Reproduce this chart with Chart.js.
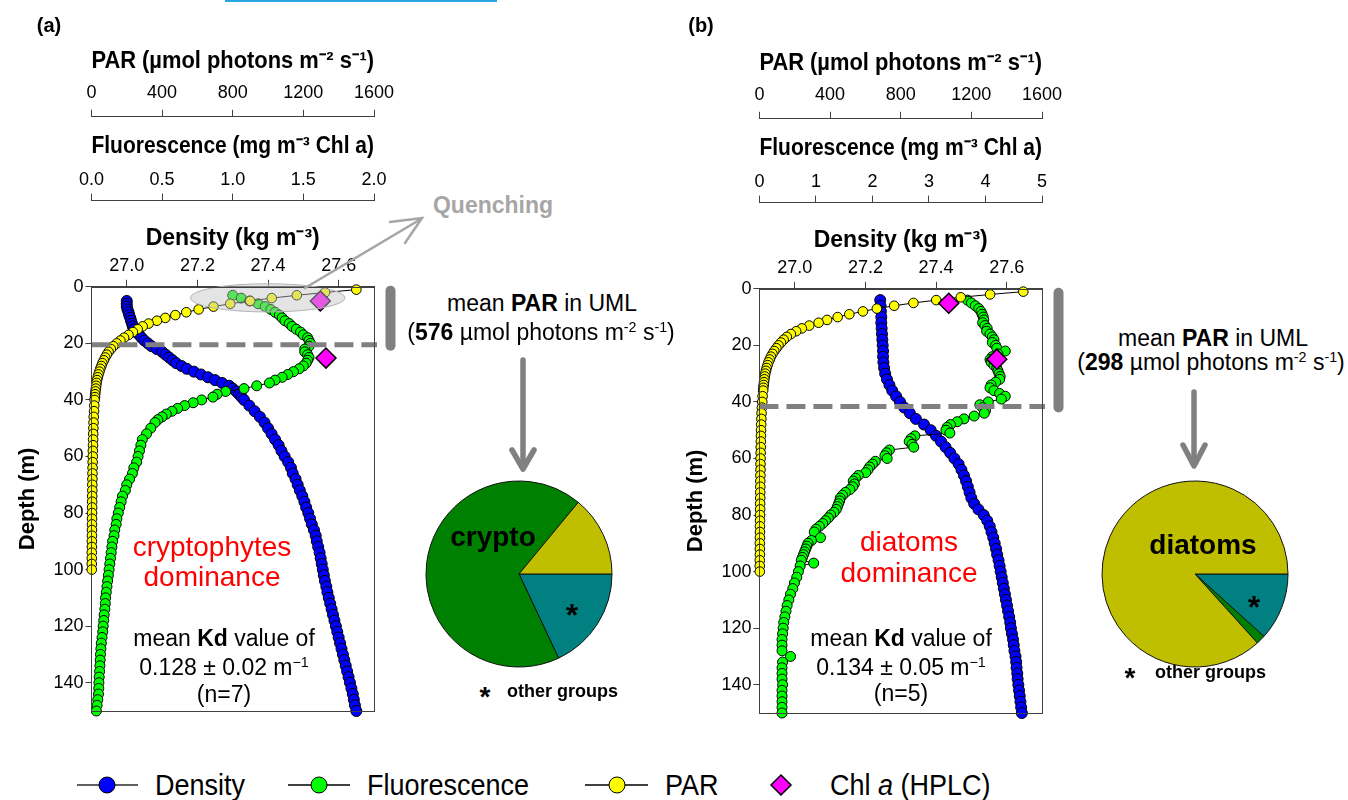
<!DOCTYPE html>
<html>
<head>
<meta charset="utf-8">
<script src="https://cdn.jsdelivr.net/npm/chart.js@4.4.1/dist/chart.umd.min.js"></script>
<style>
  body { margin: 0; width: 1348px; height: 800px; position: relative; background: #fff; overflow: hidden;
         font-family: "Liberation Sans", Arial, sans-serif; color: #000; }
  canvas, svg { position: absolute; }
  .t { position: absolute; white-space: nowrap; line-height: 1; transform: translate(-50%, -50%); }
  .l { position: absolute; white-space: nowrap; line-height: 1; transform: translateY(-50%); }
  .note { font-size: 23px; }
  .red { color: #ff0000; font-size: 28px; }
  .lg { font-size: 30px; transform-origin: left center; transform: translateY(-50%) scaleX(0.9); }
  sup { font-size: 62%; vertical-align: 0.55em; line-height: 0; }
</style>
</head>
<body>
<div style="position:absolute;left:225px;top:0;width:272px;height:2px;background:#2aa7e2"></div>

<canvas id="chartA" width="400" height="724" style="left:0;top:0"></canvas>
<canvas id="chartB" width="400" height="724" style="left:668px;top:2px"></canvas>
<canvas id="pieA" width="200" height="200" style="left:419px;top:474px"></canvas>
<canvas id="pieB" width="200" height="200" style="left:1095px;top:474px"></canvas>

<div class="t" style="left:49px;top:25px;font-size:20px;font-weight:bold">(a)</div>
<div class="t" style="left:701px;top:25px;font-size:20px;font-weight:bold">(b)</div>

<div class="t" style="left:493px;top:205px;font-size:23px;font-weight:bold;color:#a6a6a6">Quenching</div>

<div class="t note" style="left:542px;top:303px">mean <b>PAR</b> in UML</div>
<div class="t note" style="left:541px;top:332px">(<b>576</b> µmol photons m<sup>-2</sup> s<sup>-1</sup>)</div>
<div class="t note" style="left:1213px;top:338px">mean <b>PAR</b> in UML</div>
<div class="t note" style="left:1211px;top:362px">(<b>298</b> µmol photons m<sup>-2</sup> s<sup>-1</sup>)</div>

<div class="t red" style="left:212px;top:547px">cryptophytes</div>
<div class="t red" style="left:212px;top:577px">dominance</div>
<div class="t red" style="left:909px;top:542px">diatoms</div>
<div class="t red" style="left:909px;top:573px">dominance</div>

<div class="t note" style="left:224px;top:638px">mean <b>Kd</b> value of</div>
<div class="t note" style="left:224px;top:667px">0.128 ± 0.02 m<sup>−1</sup></div>
<div class="t note" style="left:224px;top:694px">(n=7)</div>
<div class="t note" style="left:901px;top:638px">mean <b>Kd</b> value of</div>
<div class="t note" style="left:901px;top:667px">0.134 ± 0.05 m<sup>−1</sup></div>
<div class="t note" style="left:901px;top:693px">(n=5)</div>

<div class="t" style="left:493px;top:537px;font-size:28px;font-weight:bold">crypto</div>
<div class="t" style="left:572px;top:615px;font-size:32px;font-weight:bold">*</div>
<div class="t" style="left:485px;top:697px;font-size:28px;font-weight:bold">*</div>
<div class="l" style="left:507px;top:691px;font-size:18px;font-weight:bold">other groups</div>
<div class="t" style="left:1203px;top:545px;font-size:28px;font-weight:bold">diatoms</div>
<div class="t" style="left:1254px;top:607px;font-size:32px;font-weight:bold">*</div>
<div class="t" style="left:1130px;top:678px;font-size:28px;font-weight:bold">*</div>
<div class="l" style="left:1155px;top:672px;font-size:18px;font-weight:bold">other groups</div>

<div class="l lg" style="left:155px;top:785px">Density</div>
<div class="l lg" style="left:367px;top:785px">Fluorescence</div>
<div class="l lg" style="left:665px;top:785px">PAR</div>
<div class="l lg" style="left:830px;top:785px">Chl <i>a</i> (HPLC)</div>

<svg width="1348" height="800" style="left:0;top:0">
  <g stroke="#a6a6a6" stroke-width="2.5" fill="none" stroke-linecap="round">
    <line x1="305" y1="288" x2="421" y2="219"/>
    <polyline points="390,222 422,218 405,243"/>
  </g>
  <g stroke="#808080" stroke-width="5.5" fill="none" stroke-linecap="round" stroke-linejoin="round">
    <line x1="523" y1="360" x2="523" y2="467"/>
    <polyline points="512,450 523,469 534,450"/>
    <line x1="1194" y1="392" x2="1194" y2="464"/>
    <polyline points="1183,445 1194,466 1205,445"/>
  </g>
  <line x1="77" y1="785" x2="138" y2="785" stroke="#606060" stroke-width="2"/>
  <circle cx="107" cy="785" r="8" fill="#0000ff" stroke="#000" stroke-width="1"/>
  <line x1="288" y1="785" x2="350" y2="785" stroke="#000" stroke-width="1.5"/>
  <circle cx="319" cy="785" r="8" fill="#00ff00" stroke="#000" stroke-width="1"/>
  <line x1="585" y1="785" x2="648" y2="785" stroke="#000" stroke-width="1.5"/>
  <circle cx="617" cy="785" r="8" fill="#ffff00" stroke="#000" stroke-width="1"/>
  <polygon points="781,775 791,785 781,795 771,785" fill="#ff00ff" stroke="#000" stroke-width="1.5"/>
</svg>

<script>
// ---- ticks
const depthTicks = [0, 20, 40, 60, 80, 100, 120, 140]
const densityTicks = [27.0, 27.2, 27.4, 27.6]
const parTicks = [0, 400, 800, 1200, 1600]
const flTicksA = [0.0, 0.5, 1.0, 1.5, 2.0]
const flTicksB = [0, 1, 2, 3, 4, 5]

// ---- mixed layer depth (m) for (a) and (b)
const umlDepth = [20.5, 41.6]

// ---- pies (% of Chl a)
const pieGroups = ["other groups", "crypto", "diatoms"]
const pieA = [18, 68, 14]
const pieB = [11.7, 1.6, 86.7]

// ---- (a) density
const depthDenA = [
  5, 6, 7, 8, 9, 10, 11, 12, 13, 14,
  15, 16, 17, 18, 19, 20, 21, 22, 23, 24,
  25, 26, 27, 28, 29, 30, 31, 32, 33, 34,
  35, 36, 37, 38, 39, 40, 42, 44, 46, 48,
  50, 52, 54, 56, 58, 60, 62, 64, 66, 68,
  70, 72, 74, 76, 78, 80, 82, 84, 86, 88,
  90, 92, 94, 96, 98, 100, 102, 104, 106, 108,
  110, 112, 114, 116, 118, 120, 122, 124, 126, 128,
  130, 132, 134, 136, 138, 140, 142, 144, 146, 148,
  150]
const denA = [
  27.000, 27.000, 27.000, 27.002, 27.005, 27.007, 27.010, 27.012, 27.015, 27.017,
  27.020, 27.027, 27.035, 27.042, 27.050, 27.060, 27.070, 27.085, 27.100, 27.110,
  27.120, 27.130, 27.140, 27.155, 27.170, 27.190, 27.210, 27.230, 27.250, 27.270,
  27.290, 27.300, 27.310, 27.318, 27.325, 27.332, 27.347, 27.362, 27.377, 27.390,
  27.400, 27.410, 27.420, 27.430, 27.438, 27.447, 27.457, 27.465, 27.470, 27.478,
  27.484, 27.490, 27.497, 27.503, 27.508, 27.514, 27.519, 27.524, 27.530, 27.535,
  27.538, 27.542, 27.546, 27.549, 27.552, 27.555, 27.558, 27.561, 27.565, 27.568,
  27.572, 27.576, 27.580, 27.584, 27.588, 27.592, 27.596, 27.600, 27.604, 27.608,
  27.612, 27.616, 27.620, 27.624, 27.628, 27.632, 27.636, 27.640, 27.643, 27.646,
  27.650]

// ---- (a) fluorescence
const depthFlA = [
  3, 4, 5, 6, 7, 8, 9, 10, 11, 12,
  13, 14, 15, 16, 17, 18, 19, 20, 21, 22,
  23, 24, 25, 26, 27, 28, 29, 30, 31, 32,
  33, 34, 35, 36, 37, 38, 39, 40, 41, 42,
  43, 44, 45, 46, 47, 48, 50, 52, 54, 56,
  58, 60, 62, 64, 66, 68, 70, 72, 74, 76,
  78, 80, 82, 84, 86, 88, 90, 92, 94, 96,
  98, 100, 102, 104, 106, 108, 110, 112, 114, 116,
  118, 120, 122, 124, 126, 128, 130, 132, 134, 136,
  138, 140, 142, 144, 146, 148, 150]
const flA = [
  1.00, 1.06, 1.12, 1.18, 1.23, 1.27, 1.30, 1.33, 1.35, 1.37,
  1.40, 1.42, 1.45, 1.48, 1.50, 1.53, 1.54, 1.55, 1.54, 1.51,
  1.51, 1.53, 1.54, 1.53, 1.52, 1.50, 1.47, 1.43, 1.39, 1.35,
  1.30, 1.26, 1.17, 1.08, 0.95, 0.89, 0.86, 0.78, 0.72, 0.66,
  0.61, 0.57, 0.53, 0.50, 0.47, 0.45, 0.42, 0.39, 0.36, 0.35,
  0.34, 0.33, 0.32, 0.30, 0.29, 0.27, 0.25, 0.24, 0.22, 0.21,
  0.20, 0.19, 0.18, 0.175, 0.165, 0.16, 0.15, 0.145, 0.14, 0.135,
  0.13, 0.125, 0.12, 0.115, 0.11, 0.105, 0.10, 0.098, 0.095, 0.09,
  0.087, 0.083, 0.08, 0.075, 0.07, 0.067, 0.064, 0.062, 0.06, 0.058,
  0.055, 0.053, 0.052, 0.05, 0.045, 0.04, 0.035]

// ---- (a) PAR
const depthParA = [
  1, 2, 3, 4, 5, 6, 7, 8, 9, 10,
  11, 12, 13, 14, 15, 16, 17, 18, 19, 20,
  21, 22, 23, 24, 25, 26, 27, 28, 29, 30,
  31, 32, 33, 34, 35, 36, 37, 38, 39, 40,
  42, 44, 46, 48, 50, 52, 54, 56, 58, 60,
  62, 64, 66, 68, 70, 72, 74, 76, 78, 80,
  82, 84, 86, 88, 90, 92, 94, 96, 98, 100]
const parA = [
  1500, 1323, 1163, 1021, 899, 786, 691, 607, 537, 475,
  418, 371, 324, 290, 262, 235, 210, 185, 164, 143,
  124, 110, 97, 87, 78, 70, 62, 56, 50, 45,
  40, 36, 32, 29, 27, 25, 23, 21, 20, 18,
  16, 15, 13, 12, 11, 10, 9.5, 9, 8, 7.5,
  7, 6.5, 6, 5.5, 5, 5, 4.5, 4, 4, 3.5,
  3.5, 3, 3, 3, 2.5, 2.5, 2, 2, 2, 2]

// ---- (a) Chl a HPLC
const depthChlA = [5, 25.2]
const chlA = [1.62, 1.66]

// ---- (b) density
const depthDenB = [
  4, 6, 8, 10, 12, 14, 16, 18, 20, 22,
  24, 26, 28, 30, 32, 34, 36, 38, 40, 42,
  44, 46, 48, 50, 52, 54, 56, 58, 60, 62,
  64, 66, 68, 70, 72, 74, 76, 78, 80, 82,
  84, 86, 88, 90, 92, 94, 96, 98, 100, 102,
  104, 106, 108, 110, 112, 114, 116, 118, 120, 122,
  124, 126, 128, 130, 132, 134, 136, 138, 140, 142,
  144, 146, 148, 150]
const denB = [
  27.242, 27.243, 27.244, 27.245, 27.245, 27.246, 27.247, 27.248, 27.249, 27.250,
  27.250, 27.251, 27.253, 27.256, 27.261, 27.268, 27.276, 27.287, 27.298, 27.310,
  27.326, 27.343, 27.366, 27.385, 27.400, 27.414, 27.427, 27.440, 27.452, 27.464,
  27.472, 27.479, 27.485, 27.490, 27.495, 27.500, 27.508, 27.520, 27.535, 27.545,
  27.552, 27.557, 27.562, 27.566, 27.570, 27.573, 27.577, 27.580, 27.583, 27.586,
  27.589, 27.592, 27.595, 27.598, 27.601, 27.604, 27.607, 27.610, 27.612, 27.615,
  27.618, 27.620, 27.622, 27.625, 27.627, 27.628, 27.630, 27.631, 27.633, 27.635,
  27.637, 27.639, 27.641, 27.643]

// ---- (b) fluorescence
const depthFlB = [
  4, 5, 6, 7, 8, 9, 10, 11, 12, 13,
  14, 15, 16, 17, 18, 19, 20, 21, 22, 23,
  24, 25, 26, 27, 28, 29, 30, 31, 32, 33,
  34, 35, 36, 37, 38, 39, 40, 41, 42, 43,
  44, 45, 46, 47, 48, 49, 50, 51, 52, 53,
  54, 55, 56, 57, 58, 59, 60, 61, 62, 63,
  64, 65, 66, 67, 68, 69, 70, 71, 72, 73,
  74, 75, 76, 77, 78, 79, 80, 81, 82, 83,
  84, 85, 86, 88, 89, 90, 91, 92, 93, 94,
  95, 96, 97, 98, 100, 102, 104, 106, 108, 110,
  112, 114, 116, 118, 120, 122, 124, 126, 128, 130,
  132, 134, 136, 138, 140, 142, 144, 146, 148, 150]
const flB = [
  3.68, 3.75, 3.82, 3.88, 3.92, 3.94, 3.96, 3.97, 3.95, 3.99,
  4.03, 4.02, 4.08, 4.12, 4.15, 4.12, 4.18, 4.20, 4.35, 4.22,
  4.12, 4.08, 4.10, 4.15, 4.20, 4.22, 4.24, 4.26, 4.25, 4.18,
  4.10, 4.08, 4.15, 4.25, 4.35, 4.28, 4.05, 3.90, 3.95, 4.00,
  3.98, 3.80, 3.62, 3.50, 3.38, 3.32, 3.30, 3.37, 2.75, 2.68,
  2.65, 2.70, 2.73, 2.30, 2.25, 2.22, 2.26, 2.05, 2.00, 1.95,
  1.92, 1.88, 1.75, 1.70, 1.66, 1.68, 1.65, 1.60, 1.52, 1.47,
  1.43, 1.42, 1.40, 1.38, 1.36, 1.32, 1.26, 1.22, 1.17, 1.12,
  1.06, 1.00, 0.97, 1.08, 0.92, 0.86, 0.84, 0.82, 0.80, 0.78,
  0.76, 0.74, 0.96, 0.72, 0.69, 0.66, 0.62, 0.59, 0.55, 0.52,
  0.49, 0.47, 0.45, 0.43, 0.42, 0.41, 0.40, 0.40, 0.40, 0.55,
  0.41, 0.40, 0.40, 0.40, 0.41, 0.40, 0.40, 0.40, 0.40, 0.40]

// ---- (b) PAR
const depthParB = [
  1, 2, 3, 4, 5, 6, 7, 8, 9, 10,
  11, 12, 13, 14, 15, 16, 17, 18, 19, 20,
  21, 22, 23, 24, 25, 26, 27, 28, 29, 30,
  31, 32, 33, 34, 35, 36, 38, 40, 42, 44,
  46, 48, 50, 52, 54, 56, 58, 60, 62, 64,
  66, 68, 70, 72, 74, 76, 78, 80, 82, 84,
  86, 88, 90, 92, 94, 96, 98, 100]
const parB = [
  1494, 1306, 1140, 1001, 872, 763, 665, 586, 509, 443,
  383, 335, 282, 240, 208, 178, 155, 137, 122, 108,
  96, 84, 74, 65, 58, 51, 46, 41, 37, 33,
  30, 28, 26, 24, 22, 21, 18, 16, 14, 12,
  11, 10, 9, 8.5, 8, 7.5, 7, 6.5, 6, 6,
  5.5, 5, 5, 4.5, 4.5, 4, 4, 3.5, 3.5, 3,
  3, 3, 2.5, 2.5, 2.5, 2, 2, 2]

// ---- (b) Chl a HPLC
const depthChlB = [5.1, 24.9]
const chlB = [3.35, 4.20]

Chart.defaults.font.family = '"Liberation Sans", Arial, sans-serif'
Chart.defaults.color = "#000"

const tickFont = { size: 18, lineHeight: 1.2 }
const titleFont = { size: 23, weight: "bold", lineHeight: 1.2 }
const axisColor = "#404040"

function puntos(depths, values) {
  return depths.map((d, i) => ({ x: values[i], y: d }))
}

function fijarTicks(values) {
  return (axis) => { axis.ticks = values.map((v) => ({ value: v })) }
}

function ejeSuperior(min, max, values, decimals, title, weight, tickPad, titlePad) {
  return {
    type: "linear", axis: "x", position: "top", min: min, max: max, weight: weight,
    afterBuildTicks: fijarTicks(values),
    ticks: { font: tickFont, padding: tickPad, autoSkip: false, maxRotation: 0,
             callback: (v) => Number(v).toFixed(decimals) },
    grid: { drawOnChartArea: false, tickLength: 7, color: axisColor },
    border: { color: axisColor },
    title: { display: true, text: title, font: titleFont, padding: titlePad }
  }
}

function serie(label, depths, values, axisId, color, radius, lineColor) {
  return {
    label: label, data: puntos(depths, values), xAxisID: axisId, yAxisID: "y",
    showLine: true, borderColor: lineColor, borderWidth: 1,
    pointRadius: radius, pointBackgroundColor: color, pointBorderColor: "#000",
    pointBorderWidth: 1, clip: false
  }
}

const extras = {
  id: "extras",
  afterDatasetsDraw(chart, args, opts) {
    const ctx = chart.ctx
    const area = chart.chartArea
    const y = chart.scales.y
    const xDen = chart.scales.xDen
    ctx.save()
    if (opts.ellipse) {
      const e = opts.ellipse
      const cx = xDen.getPixelForValue(e.x)
      const cy = y.getPixelForValue(e.y)
      const rx = Math.abs(xDen.getPixelForValue(e.x + e.rx) - cx)
      const ry = Math.abs(y.getPixelForValue(e.y + e.ry) - cy)
      ctx.beginPath()
      ctx.ellipse(cx, cy, rx, ry, 0, 0, Math.PI * 2)
      ctx.fillStyle = "rgba(195,195,195,0.45)"
      ctx.fill()
      ctx.strokeStyle = "#b4b4b4"
      ctx.lineWidth = 1
      ctx.stroke()
    }
    const yUml = y.getPixelForValue(opts.uml)
    ctx.setLineDash([19, 8])
    ctx.lineWidth = 5
    ctx.strokeStyle = "#808080"
    ctx.beginPath()
    ctx.moveTo(area.left, yUml)
    ctx.lineTo(area.right + 3, yUml)
    ctx.stroke()
    ctx.setLineDash([])
    ctx.strokeStyle = axisColor
    ctx.lineWidth = 1
    ctx.strokeRect(Math.round(area.left) + 0.5, Math.round(area.top) + 0.5,
      Math.round(area.right - area.left), Math.round(area.bottom - area.top))
    ctx.lineCap = "round"
    ctx.lineWidth = 10
    ctx.strokeStyle = "#808080"
    ctx.beginPath()
    ctx.moveTo(area.right + 16.5, y.getPixelForValue(0) + 4)
    ctx.lineTo(area.right + 16.5, yUml + 1)
    ctx.stroke()
    ctx.restore()
  }
}

function configuracionPerfil(p) {
  return {
    type: "scatter",
    data: {
      datasets: [
        { label: "Chl a (HPLC)", data: puntos(p.depthChl, p.chl), xAxisID: "xFl", yAxisID: "y",
          showLine: false, pointStyle: "rectRot", pointRadius: 10,
          pointBackgroundColor: "#ff00ff", pointBorderColor: "#000", pointBorderWidth: 1.5, clip: false },
        serie("PAR", p.depthPar, p.par, "xPar", "#ffff00", 4.8, "#000"),
        serie("Fluorescence", p.depthFl, p.fl, "xFl", "#00ff00", 5, "#000"),
        serie("Density", p.depthDen, p.den, "xDen", "#0000ff", 5.5, "#555")
      ]
    },
    options: {
      responsive: false, animation: false, events: [],
      layout: { padding: { left: 15, top: 48, right: 26, bottom: 13 } },
      scales: {
        xPar: ejeSuperior(0, 1600, parTicks, 0, "PAR (µmol photons m⁻² s⁻¹)", 3, 5.6, { top: 0, bottom: 1.4 }),
        xFl: ejeSuperior(0, p.flMax, p.flTicks, p.flDecimals, "Fluorescence (mg m⁻³ Chl a)", 2, 3, { top: 16.2, bottom: 5.4 }),
        xDen: ejeSuperior(26.9, 27.7, densityTicks, 1, "Density (kg m⁻³)", 1, 3, { top: 24, bottom: 0 }),
        y: {
          type: "linear", axis: "y", position: "left", reverse: true, min: 0, max: 150,
          afterBuildTicks: fijarTicks(depthTicks),
          ticks: { font: tickFont, padding: 2, autoSkip: false },
          grid: { drawOnChartArea: false, tickLength: 6, color: axisColor },
          border: { color: axisColor },
          title: { display: true, text: "Depth (m)", font: { size: 22, weight: "bold", lineHeight: 1.2 },
                   padding: { top: 0, bottom: 10 } }
        }
      },
      plugins: {
        legend: { display: false },
        tooltip: { enabled: false },
        extras: { uml: p.uml, ellipse: p.ellipse }
      }
    },
    plugins: [extras]
  }
}

function configuracionPastel(values) {
  return {
    type: "pie",
    data: {
      labels: pieGroups,
      datasets: [{ data: values, backgroundColor: ["#008080", "#008000", "#bfbf00"],
                   borderColor: "#111", borderWidth: 1 }]
    },
    options: {
      responsive: false, animation: false, events: [], rotation: 90, radius: 93,
      plugins: { legend: { display: false }, tooltip: { enabled: false } }
    }
  }
}

new Chart(document.getElementById("chartA"), configuracionPerfil({
  depthDen: depthDenA, den: denA, depthFl: depthFlA, fl: flA,
  depthPar: depthParA, par: parA, depthChl: depthChlA, chl: chlA,
  flMax: 2, flTicks: flTicksA, flDecimals: 1, uml: umlDepth[0],
  ellipse: { x: 27.399, y: 3.9, rx: 0.219, ry: 5.0 }
}))
new Chart(document.getElementById("chartB"), configuracionPerfil({
  depthDen: depthDenB, den: denB, depthFl: depthFlB, fl: flB,
  depthPar: depthParB, par: parB, depthChl: depthChlB, chl: chlB,
  flMax: 5, flTicks: flTicksB, flDecimals: 0, uml: umlDepth[1],
  ellipse: null
}))
new Chart(document.getElementById("pieA"), configuracionPastel(pieA))
new Chart(document.getElementById("pieB"), configuracionPastel(pieB))
</script>
</body>
</html>
